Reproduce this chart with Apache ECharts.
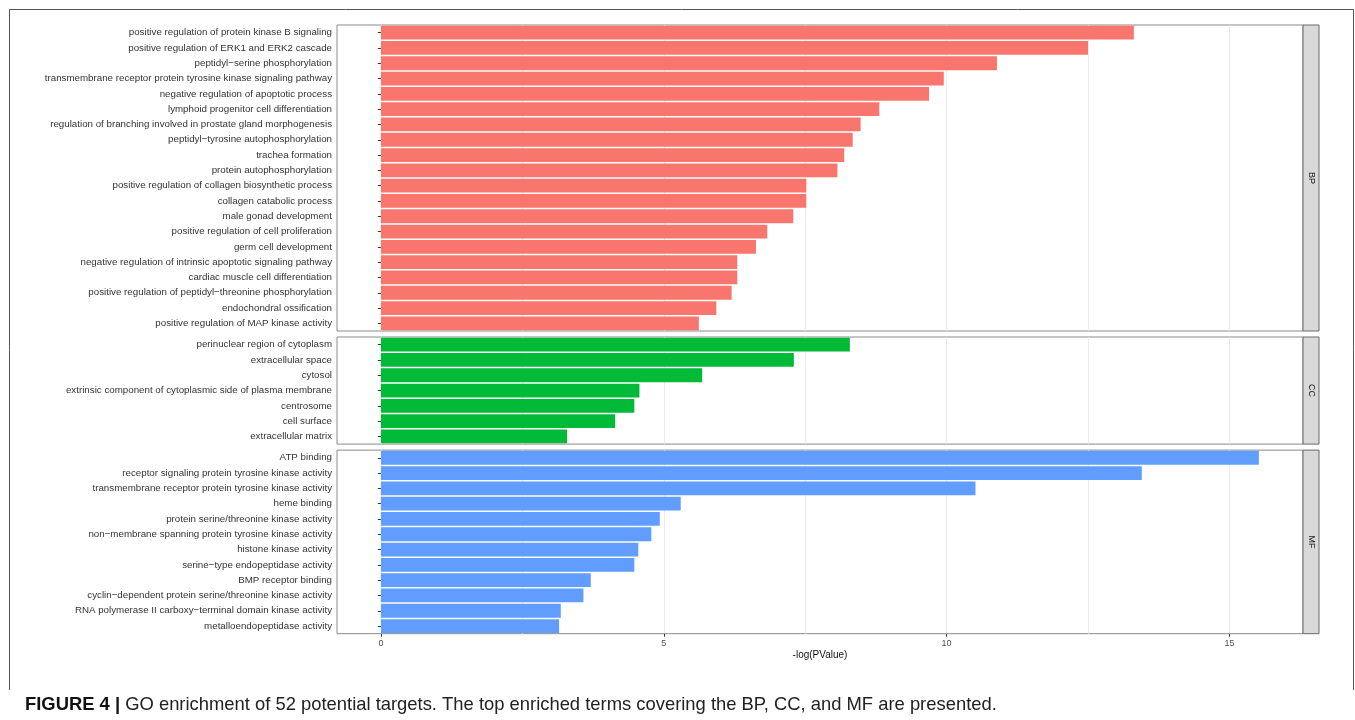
<!DOCTYPE html>
<html>
<head>
<meta charset="utf-8">
<title>GO enrichment</title>
<script src="https://cdn.jsdelivr.net/npm/echarts@6/dist/echarts.min.js"></script>
<style>
  html, body { margin: 0; padding: 0; background: #fff; }
  #chart { width: 1355px; height: 720px; }
</style>
</head>
<body>
<div id="chart"></div>
<script>
  // GO terms and -log(PValue), top to bottom as in the figure
  const bpTerms = [
    'positive regulation of protein kinase B signaling',
    'positive regulation of ERK1 and ERK2 cascade',
    'peptidyl−serine phosphorylation',
    'transmembrane receptor protein tyrosine kinase signaling pathway',
    'negative regulation of apoptotic process',
    'lymphoid progenitor cell differentiation',
    'regulation of branching involved in prostate gland morphogenesis',
    'peptidyl−tyrosine autophosphorylation',
    'trachea formation',
    'protein autophosphorylation',
    'positive regulation of collagen biosynthetic process',
    'collagen catabolic process',
    'male gonad development',
    'positive regulation of cell proliferation',
    'germ cell development',
    'negative regulation of intrinsic apoptotic signaling pathway',
    'cardiac muscle cell differentiation',
    'positive regulation of peptidyl−threonine phosphorylation',
    'endochondral ossification',
    'positive regulation of MAP kinase activity'
  ];
  const bpValues = [13.31, 12.50, 10.89, 9.95, 9.69, 8.81, 8.48, 8.34, 8.19, 8.07,
                    7.52, 7.52, 7.29, 6.83, 6.63, 6.30, 6.30, 6.20, 5.93, 5.62];

  const ccTerms = [
    'perinuclear region of cytoplasm',
    'extracellular space',
    'cytosol',
    'extrinsic component of cytoplasmic side of plasma membrane',
    'centrosome',
    'cell surface',
    'extracellular matrix'
  ];
  const ccValues = [8.29, 7.30, 5.68, 4.57, 4.48, 4.14, 3.29];

  const mfTerms = [
    'ATP binding',
    'receptor signaling protein tyrosine kinase activity',
    'transmembrane receptor protein tyrosine kinase activity',
    'heme binding',
    'protein serine/threonine kinase activity',
    'non−membrane spanning protein tyrosine kinase activity',
    'histone kinase activity',
    'serine−type endopeptidase activity',
    'BMP receptor binding',
    'cyclin−dependent protein serine/threonine kinase activity',
    'RNA polymerase II carboxy−terminal domain kinase activity',
    'metalloendopeptidase activity'
  ];
  const mfValues = [15.52, 13.45, 10.51, 5.30, 4.93, 4.78, 4.55, 4.48, 3.71, 3.58, 3.18, 3.15];

  const facets = ['BP', 'CC', 'MF'];
  const xTicks = [0, 5, 10, 15];
  const gridValues = [0, 2.5, 5, 7.5, 10, 12.5, 15];

  const chart = echarts.init(document.getElementById('chart'));
  const font = "'Liberation Sans', Arial, Helvetica, sans-serif";

  // ggplot style expansion around [0, max]
  const xMin = -0.776, xMax = 16.3;
  const plotLeft = 337, plotRight = 1303;
  const rowH = 15.3;
  const panels = [
    { terms: bpTerms, values: bpValues, color: '#F8766D' },
    { terms: ccTerms, values: ccValues, color: '#00BA38' },
    { terms: mfTerms, values: mfValues, color: '#619CFF' }
  ];

  let panelY = 25;
  panels.forEach(p => {
    p.top = panelY;
    p.height = p.terms.length * rowH;
    panelY += p.height + 6;
  });

  const grids = [], xAxes = [], yAxes = [], series = [], graphics = [];

  panels.forEach((p, i) => {
    const last = i === panels.length - 1;
    grids.push({
      left: plotLeft, width: plotRight - plotLeft, top: p.top, height: p.height,
      show: true, backgroundColor: '#fff', borderColor: '#8a8a8a', borderWidth: 1,
      containLabel: false, outerBoundsMode: 'none'
    });
    // main axis: bars, ticks and labels (bottom panel only)
    xAxes.push({
      type: 'value', gridIndex: i, min: xMin, max: xMax, position: 'bottom',
      axisLine: { show: false },
      axisTick: { show: last, customValues: xTicks, length: 3, lineStyle: { color: '#333' } },
      axisLabel: { show: last, customValues: xTicks, fontSize: 9, color: '#4d4d4d', margin: 5, fontFamily: font },
      splitLine: { show: false },
      name: last ? '-log(PValue)' : '',
      nameLocation: 'middle', nameGap: 17,
      nameTextStyle: { fontSize: 10, color: '#111', fontFamily: font }
    });
    // grid line axis
    xAxes.push({
      type: 'value', gridIndex: i, min: xMin, max: xMax, position: 'bottom',
      axisLine: { show: false },
      axisTick: { show: false, customValues: gridValues },
      axisLabel: { show: false },
      splitLine: { show: true, lineStyle: { color: '#ebebeb', width: 1 } }
    });
    yAxes.push({
      type: 'category', gridIndex: i, data: p.terms, inverse: true,
      axisLine: { show: false },
      axisTick: { show: true, alignWithLabel: true, interval: 0, length: 3, lineStyle: { color: '#333' } },
      axisLabel: { interval: 0, fontSize: 9.75, color: '#333', margin: 5, fontFamily: font },
      splitLine: { show: false }
    });
    series.push({
      type: 'bar', xAxisIndex: i * 2, yAxisIndex: i, data: p.values,
      barCategoryGap: '10%', z: 3, silent: true,
      itemStyle: { color: p.color }
    });
    // facet strip on the right
    graphics.push({
      type: 'rect', z: 10,
      shape: { x: plotRight, y: p.top, width: 16, height: p.height },
      style: { fill: '#d9d9d9', stroke: '#6b6b6b', lineWidth: 1 }
    });
    graphics.push({
      type: 'text', z: 11,
      x: plotRight + 8, y: p.top + p.height / 2, rotation: -Math.PI / 2,
      style: { text: facets[i], fontSize: 9, fill: '#1a1a1a', fontFamily: font, align: 'center', verticalAlign: 'middle' }
    });
  });

  // outer figure frame (bottom edge is not visible in the figure)
  graphics.push({
    type: 'polyline', z: 0,
    shape: { points: [[9.5, 690], [9.5, 9.5], [1353.5, 9.5], [1353.5, 690]] },
    style: { fill: 'none', stroke: '#555', lineWidth: 1 }
  });
  // caption
  graphics.push({
    type: 'text', left: 25, top: 696,
    style: {
      text: '{b|FIGURE 4 |} GO enrichment of 52 potential targets. The top enriched terms covering the BP, CC, and MF are presented.',
      fontSize: 18.4, fill: '#222', fontFamily: font,
      rich: { b: { fontSize: 18.4, fontWeight: 'bold', fill: '#111', fontFamily: font } }
    }
  });

  chart.setOption({
    animation: false,
    grid: grids,
    xAxis: xAxes,
    yAxis: yAxes,
    series: series,
    graphic: graphics
  });
</script>
</body>
</html>
